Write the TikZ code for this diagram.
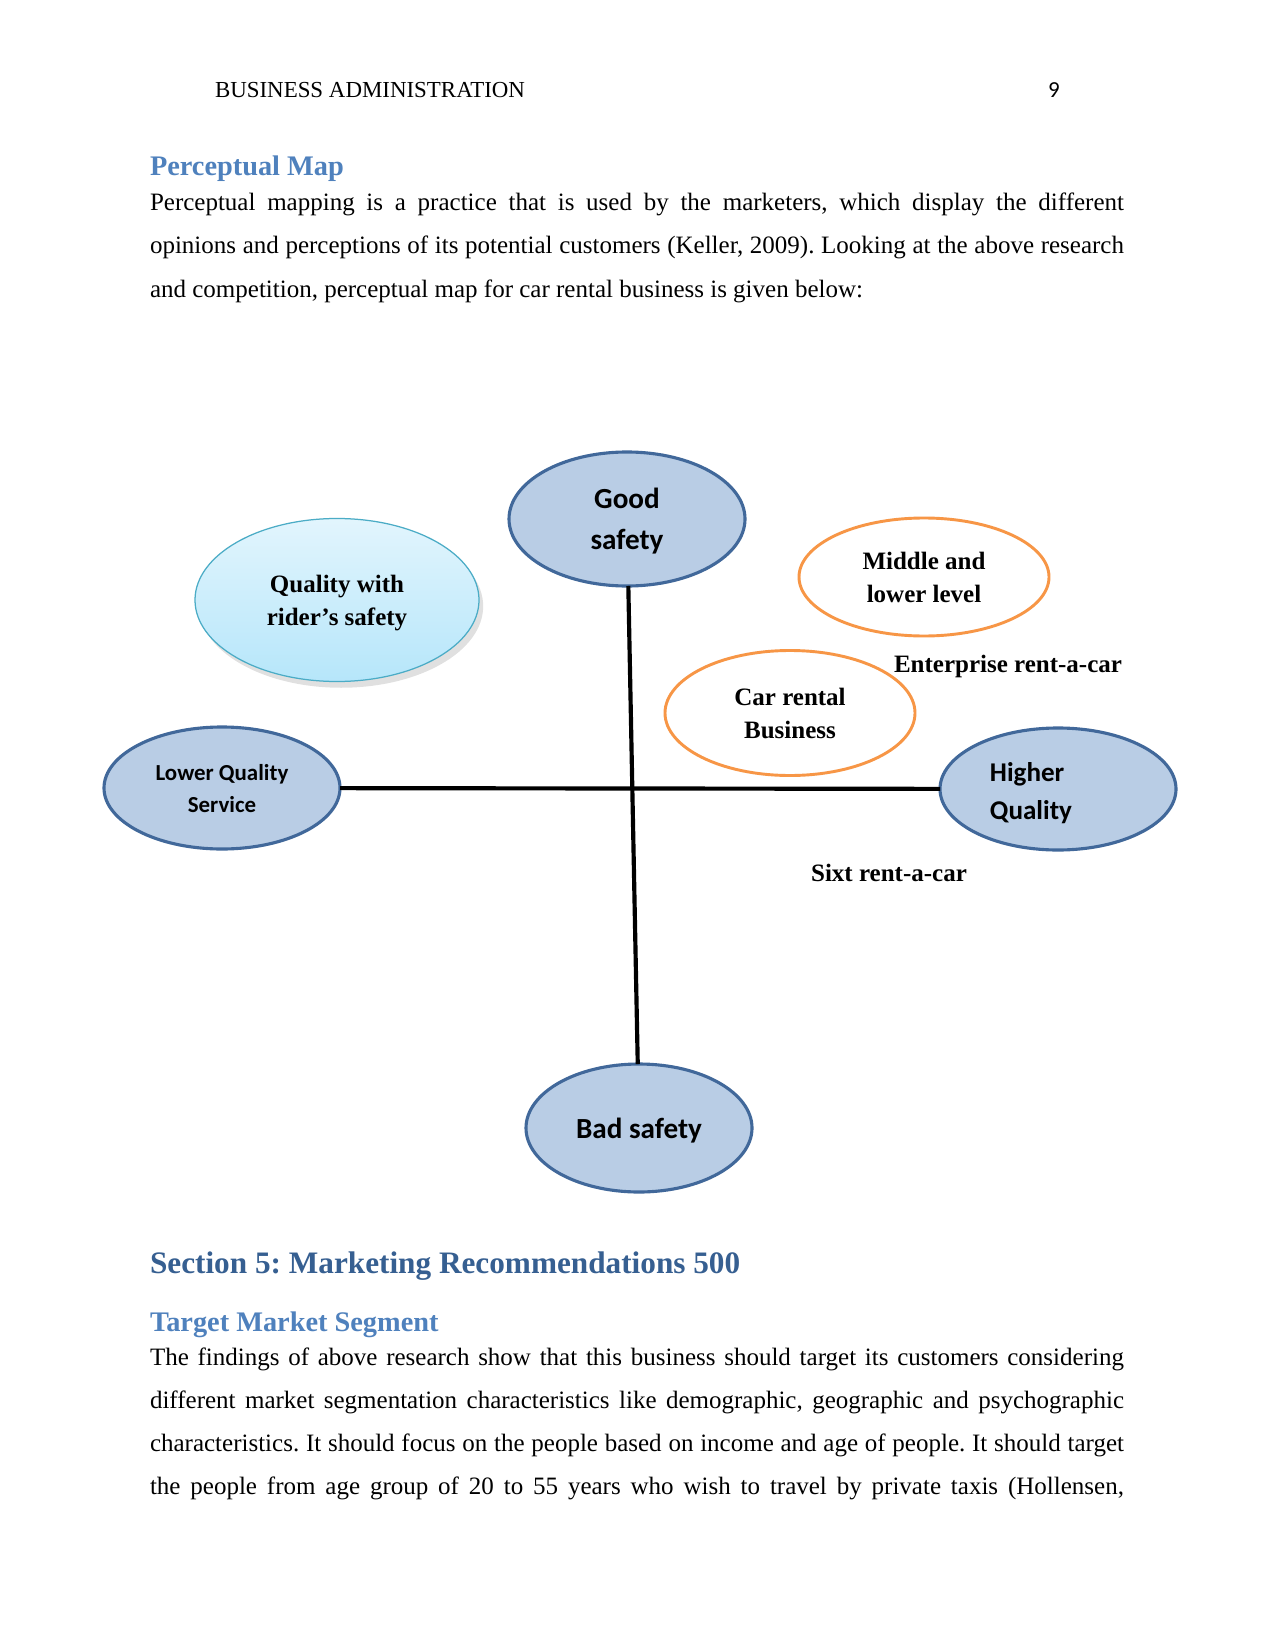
\documentclass[tikz,border=0pt]{standalone}
\usepackage{fontspec}
\setmainfont{Liberation Serif}
\newfontfamily\carlito{Carlito}
\usetikzlibrary{shapes.geometric,shadows}
\definecolor{axisfill}{HTML}{B9CDE5}
\definecolor{axisedge}{HTML}{41689A}
\definecolor{brandedge}{HTML}{F79646}
\definecolor{headblue}{HTML}{4F81BD}
\definecolor{sectblue}{HTML}{365F91}
\definecolor{skytop}{HTML}{E2F5FD}
\definecolor{skybot}{HTML}{B6E6FA}
\definecolor{skyedge}{HTML}{4BACC6}
\newcommand{\jline}[1]{\parbox{467.5pt}{\parfillskip=0pt #1\par}}
\frenchspacing

\begin{document}
\begin{tikzpicture}[x=0.48pt, y=-0.48pt, every node/.style={inner sep=0pt, outer sep=0pt},
	ellsize/.style 2 args={minimum width=#1*0.48pt, minimum height=#2*0.48pt},
	axisnode/.style={ellipse, draw=axisedge, line width=1.5pt, fill=axisfill, align=center, text depth=0pt},
	brandnode/.style={ellipse, draw=brandedge, line width=1.4pt, fill=white, align=center, text depth=0pt, font=\fontsize{12}{15.7}\selectfont\bfseries},
	lab/.style={font=\fontsize{12}{15.7}\selectfont\bfseries},
	body/.style={anchor=base west, font=\fontsize{12}{14}\selectfont},
	axis/.style={line width=2pt}]
	\useasboundingbox[fill=white] (0,0) rectangle (1275,1650);
	% page text above the map
	\node[body, font=\fontsize{11}{13}\selectfont] (head) at (215,98) {BUSINESS ADMINISTRATION};
	\node[anchor=base, font=\carlito\fontsize{11}{13}\selectfont] (pgno) at (1054,98) {9};
	\node[body, text=headblue, font=\fontsize{13.6}{16}\selectfont\bfseries] (h1) at (150,176) {Perceptual Map};
	\node[body] (p1) at (150,211) {\jline{Perceptual mapping is a practice that is used by the marketers, which display the different}};
	\node[body] (p2) at (150,254) {\jline{opinions and perceptions of its potential customers (Keller, 2009). Looking at the above research}};
	\node[body] (p3) at (150,298) {and competition, perceptual map for car rental business is given below:};
	% the map
	\node[axisnode, ellsize={236}{134}, font=\fontsize{14}{19.7}\selectfont\carlito\bfseries] (gs) at (627,519) {Good\\safety};
	\node[axisnode, ellsize={226}{128}, font=\fontsize{14}{19.7}\selectfont\carlito\bfseries] (bs) at (639,1128) {Bad safety};
	\node[axisnode, ellsize={236}{122}, font=\fontsize{11}{15.4}\selectfont\carlito\bfseries] (lq) at (222,788) {Lower Quality\\Service};
	\node[axisnode, ellsize={236}{122}, label={[xshift=-13pt, yshift=-2pt, align=left, font=\fontsize{13}{18.2}\selectfont\carlito\bfseries]center:Higher\\Quality}] (hq) at (1058,789) {};
	\node[ellipse, ellsize={284}{163}, draw=skyedge, line width=0.6pt, top color=skytop, bottom color=skybot, align=center, text depth=0pt, font=\fontsize{12}{15.7}\selectfont\bfseries,
		drop shadow={shadow xshift=2pt, shadow yshift=-3pt, opacity=0.12, fill=black}] (qr) at (337,600) {Quality with\\rider's safety};
	\node[brandnode, ellsize={250}{118}] (ml) at (924,577) {Middle and\\lower level};
	\node[brandnode, ellsize={250}{125}] (cr) at (790,713) {Car rental\\Business};
	\node[lab] (ent) at (1008,666) {Enterprise rent-a-car};
	\node[lab] (sixt) at (889,873) {Sixt rent-a-car};
	\draw[axis] (gs) -- (bs);
	\draw[axis] (lq) -- (hq);
	% page text below the map
	\node[body, text=sectblue, font=\fontsize{15}{18}\selectfont\bfseries] (h2) at (150,1273) {Section 5: Marketing Recommendations 500};
	\node[body, text=headblue, font=\fontsize{13.6}{16}\selectfont\bfseries] (h3) at (150,1331) {Target Market Segment};
	\node[body] (q1) at (150,1366) {\jline{The findings of above research show that this business should target its customers considering}};
	\node[body] (q2) at (150,1409) {\jline{different market segmentation characteristics like demographic, geographic and psychographic}};
	\node[body] (q3) at (150,1452) {\jline{characteristics. It should focus on the people based on income and age of people. It should target}};
	\node[body] (q4) at (150,1495) {\jline{the people from age group of 20 to 55 years who wish to travel by private taxis (Hollensen,}};
\end{tikzpicture}
\end{document}
